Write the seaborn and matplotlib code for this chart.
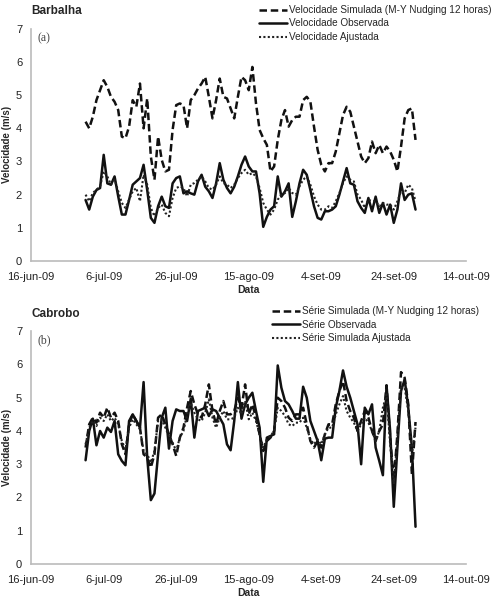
import numpy as np
import pandas as pd
import matplotlib
matplotlib.use("Agg")
import matplotlib.pyplot as plt
import seaborn as sns

# daily series, 1-jul-09 .. 30-set-09
dates = pd.date_range("2009-07-01", "2009-09-30", freq="D")

barb_sim = [4.2, 4.0, 4.35, 4.85, 5.15, 5.45, 5.25, 4.95, 4.8, 4.55,
            3.75, 3.7, 4.05, 4.85, 4.65, 5.35, 4.0, 4.9, 3.15, 2.45,
            3.75, 3.05, 2.7, 2.75, 3.95, 4.7, 4.75, 4.7, 4.0, 4.85,
            5.0, 5.2, 5.35, 5.55, 4.95, 4.3, 4.85, 5.5, 4.95, 4.9,
            4.6, 4.3, 4.95, 5.55, 5.45, 5.15, 5.85, 4.75, 3.95, 3.7,
            3.5, 2.7, 2.85, 3.65, 4.25, 4.55, 4.05, 4.25, 4.35, 4.35,
            4.85, 4.95, 4.8, 4.05, 3.35, 2.9, 2.7, 2.95, 2.95, 3.3,
            3.85, 4.4, 4.65, 4.5, 4.05, 3.6, 3.15, 2.95, 3.1, 3.6,
            3.25, 3.5, 3.25, 3.45, 3.3, 3.05, 2.7, 3.45, 4.3, 4.55,
            4.6, 3.65]
barb_obs = [1.84, 1.55, 1.94, 2.14, 2.2, 3.2, 2.34, 2.3, 2.55, 1.95,
            1.4, 1.4, 1.84, 2.3, 2.4, 2.5, 2.9, 2.14, 1.3, 1.15,
            1.65, 1.94, 1.65, 1.6, 2.34, 2.5, 2.55, 2.04, 2.1, 2.04,
            2.0, 2.4, 2.6, 2.24, 2.1, 1.9, 2.34, 2.95, 2.45, 2.2,
            2.04, 2.24, 2.55, 2.9, 3.15, 2.85, 2.7, 2.7, 2.04, 1.03,
            1.33, 1.55, 1.65, 2.55, 1.94, 2.1, 2.34, 1.33, 1.8, 2.34,
            2.75, 2.6, 2.14, 1.65, 1.3, 1.25, 1.5, 1.5, 1.55, 1.65,
            2.0, 2.4, 2.8, 2.34, 2.3, 1.8, 1.6, 1.45, 1.9, 1.5,
            1.94, 1.45, 1.75, 1.4, 1.7, 1.15, 1.55, 2.34, 1.84, 2.0,
            2.04, 1.55]
barb_adj = [2.0, 1.8, 2.05, 2.15, 2.25, 2.7, 2.55, 2.3, 2.45, 2.1,
            1.75, 1.6, 1.85, 2.1, 2.2, 1.8, 2.6, 2.3, 1.6, 1.35,
            1.6, 1.7, 1.45, 1.35, 1.9, 2.2, 2.25, 2.2, 1.95, 2.3,
            2.35, 2.45, 2.55, 2.4, 2.2, 2.15, 2.3, 2.55, 2.35, 2.3,
            2.2, 2.3, 2.5, 2.65, 2.75, 2.6, 2.65, 2.55, 2.2, 1.75,
            1.55, 1.4, 1.55, 1.85, 2.0, 2.05, 2.2, 2.05, 2.0, 2.25,
            2.45, 2.55, 2.3, 1.95, 1.7, 1.55, 1.55, 1.65, 1.6, 1.8,
            2.05, 2.35, 2.55, 2.45, 2.4, 2.0, 1.85, 1.6, 1.85, 1.8,
            1.8, 1.65, 1.75, 1.7, 1.7, 1.55, 1.8, 2.1, 2.05, 2.3,
            2.2, 1.8]

cabr_sim = [3.5, 4.2, 4.4, 4.25, 4.55, 4.4, 4.7, 4.4, 4.55, 4.3,
            3.6, 3.3, 4.2, 4.5, 4.3, 4.1, 3.3, 3.2, 2.9, 3.3,
            4.4, 4.5, 4.2, 3.9, 3.6, 3.25, 3.8, 4.1, 4.7, 5.2,
            4.8, 4.5, 4.4, 4.8, 5.4, 4.6, 4.2, 4.6, 4.9, 4.5,
            4.5, 4.6, 5.0, 4.7, 5.4, 4.5, 4.8, 4.4, 3.9, 3.4,
            3.7, 3.8, 4.0, 5.0, 4.9, 4.7, 4.4, 4.3, 4.5, 4.5,
            4.7, 4.2, 3.7, 3.5, 3.7, 3.5, 3.9, 4.2, 4.2, 4.8,
            5.2, 5.5, 4.9, 4.6, 4.4, 4.0, 4.3, 4.6, 4.4, 4.0,
            3.7, 4.0, 4.2, 5.37, 3.8, 2.5, 3.9, 5.77, 5.6, 4.8,
            2.7, 4.27]
cabr_obs = [3.12, 4.0, 4.37, 3.57, 4.0, 3.8, 4.1, 3.97, 4.3, 3.3,
            3.1, 2.97, 4.3, 4.5, 4.3, 4.1, 5.47, 3.2, 1.92, 2.12,
            3.3, 4.4, 4.7, 3.47, 4.3, 4.65, 4.6, 4.6, 4.3, 4.97,
            3.8, 4.6, 4.65, 4.7, 4.45, 4.65, 4.6, 4.4, 4.2, 3.6,
            3.42, 4.3, 5.47, 4.37, 4.8, 5.0, 5.15, 4.6, 4.1, 2.47,
            3.8, 3.85, 3.9, 5.97, 5.3, 4.9, 4.8, 4.6, 4.37, 4.37,
            5.33, 5.0, 4.3, 4.0, 3.7, 3.12, 3.77, 3.8, 3.8, 4.7,
            5.2, 5.82, 5.33, 5.0, 4.6, 4.2, 3.0, 4.7, 4.5, 4.8,
            3.5, 3.1, 2.67, 5.37, 4.0, 1.72, 3.5, 5.2, 5.55, 4.7,
            3.5, 1.12]
cabr_adj = [3.6, 4.1, 4.3, 4.15, 4.4, 4.3, 4.5, 4.3, 4.4, 4.2,
            3.7, 3.45, 4.1, 4.35, 4.2, 4.05, 3.4, 3.3, 3.05, 3.4,
            4.3, 4.35, 4.1, 3.85, 3.65, 3.4, 3.8, 4.0, 4.5, 4.85,
            4.55, 4.35, 4.3, 4.55, 4.95, 4.4, 4.1, 4.4, 4.6, 4.35,
            4.35, 4.4, 4.7, 4.5, 4.9, 4.35, 4.55, 4.3, 3.9, 3.5,
            3.75, 3.85, 4.0, 4.7, 4.6, 4.45, 4.2, 4.15, 4.25, 4.25,
            4.4, 4.1, 3.75, 3.6, 3.75, 3.6, 3.9, 4.1, 4.1, 4.5,
            4.8, 5.05, 4.6, 4.4, 4.25, 4.0, 4.2, 4.4, 4.25, 4.0,
            3.7, 4.0, 4.7, 5.1, 3.6, 2.4, 3.8, 5.3, 5.3, 4.6,
            3.3, 4.1]

tick_dates = pd.to_datetime(["2009-06-16", "2009-07-06", "2009-07-26", "2009-08-15",
                             "2009-09-04", "2009-09-24", "2009-10-14"])
tick_labels = ["16-jun-09", "6-jul-09", "26-jul-09", "15-ago-09",
               "4-set-09", "24-set-09", "14-out-09"]

panels = [
    ("Barbalha", "(a)", barb_sim, barb_obs, barb_adj,
     ["Velocidade Simulada (M-Y Nudging 12 horas)", "Velocidade Observada", "Velocidade Ajustada"]),
    ("Cabrobo", "(b)", cabr_sim, cabr_obs, cabr_adj,
     ["Série Simulada (M-Y Nudging 12 horas)", "Série Observada", "Série Simulada Ajustada"]),
]

sns.set_style("white")
plt.rcParams["font.family"] = ["Liberation Sans", "DejaVu Sans"]

fig = plt.figure(figsize=(4.95, 6.0), dpi=100)
axes = [fig.add_axes([0.063, 0.565, 0.879, 0.387]),
        fig.add_axes([0.063, 0.06, 0.879, 0.388])]
legend_anchor = [(0.52, 0.995), (0.545, 0.493)]

for ax, (name, tag, sim, obs, adj, labels), anchor in zip(axes, panels, legend_anchor):
    df = pd.DataFrame({"Data": dates, "sim": sim, "obs": obs, "adj": adj})
    sns.lineplot(data=df, x="Data", y="sim", ax=ax, color="#111111", lw=1.8,
                 ls=(0, (3.0, 1.5)), label=labels[0], legend=False)
    sns.lineplot(data=df, x="Data", y="obs", ax=ax, color="#111111", lw=1.8,
                 ls="-", label=labels[1], legend=False)
    sns.lineplot(data=df, x="Data", y="adj", ax=ax, color="#222222", lw=1.5,
                 ls=(0, (1, 1.1)), label=labels[2], legend=False)

    ax.set_ylim(0, 7)
    ax.set_xlim(tick_dates[0], tick_dates[-1])
    ax.set_yticks(range(0, 8))
    ax.set_xticks(tick_dates)
    ax.set_xticklabels(tick_labels)
    ax.tick_params(axis="both", length=0, labelsize=8, colors="#222222")
    ax.tick_params(axis="x", pad=8)
    ax.tick_params(axis="y", pad=6.5)
    for s in ["top", "right"]:
        ax.spines[s].set_visible(False)
    for s in ["left", "bottom"]:
        ax.spines[s].set_color("#bbbbbb")
        ax.spines[s].set_linewidth(1.2)
    ax.set_xlabel("Data", fontsize=7.5, fontweight="bold", labelpad=2)
    ax.set_ylabel("Velocidade (m/s)", fontsize=7, fontweight="bold")
    ax.yaxis.set_label_coords(-0.044, 0.5)
    ax.text(0.0, 1.05, name, transform=ax.transAxes, fontsize=8.5,
            fontweight="bold", ha="left", va="bottom")
    ax.text(0.015, 0.985, tag, transform=ax.transAxes, fontsize=8.5,
            family="Liberation Serif", color="#444444", ha="left", va="top")

    handles, labs = ax.get_legend_handles_labels()
    fig.legend(handles, labs, loc="upper left", bbox_to_anchor=anchor,
               frameon=False, fontsize=7.2, handlelength=2.8, handletextpad=0.2,
               labelspacing=0.35, borderaxespad=0, borderpad=0.2)

fig.savefig("out.png", dpi=100)
